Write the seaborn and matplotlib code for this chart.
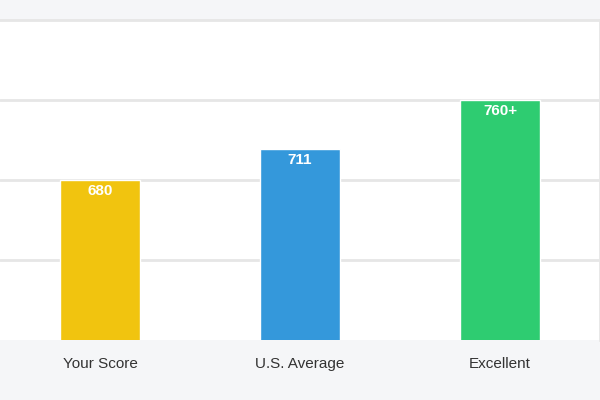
import matplotlib
matplotlib.use("Agg")
import matplotlib.pyplot as plt
import seaborn as sns
import pandas as pd

categories = ["Your Score", "U.S. Average", "Excellent"]
values = [680, 711, 760]
labels = ["680", "711", "760+"]
colors = ["#f1c40f", "#3498db", "#2ecc71"]

sns.set_theme(style="white")
plt.rcParams['font.family'] = ['Liberation Sans', 'DejaVu Sans']
fig = plt.figure(figsize=(6, 4), dpi=100, facecolor="#f5f6f8")
ax = fig.add_axes([0, 0.15, 1, 0.8])
ax.set_facecolor("white")
df = pd.DataFrame({"cat": categories, "val": values})
sns.barplot(data=df, x="cat", y="val", hue="cat", palette=colors, width=0.4, legend=False, ax=ax, saturation=1)
ax.set_ylim(520, 840)
ax.set_xlim(-0.5, 2.5)
ax.set_yticks([600, 680, 760])
ax.yaxis.grid(True, color="#e6e6e6", linewidth=2)
ax.set_axisbelow(True)
ax.tick_params(axis="y", left=False, labelleft=False)
ax.tick_params(axis="x", bottom=False, labelsize=11, colors="#333333", pad=6)
ax.set_xlabel(""); ax.set_ylabel("")
for s in ["left", "bottom"]:
    ax.spines[s].set_visible(False)
for s in ["top", "right"]:
    ax.spines[s].set_color("#e6e6e6"); ax.spines[s].set_linewidth(2)
for i, (v, l) in enumerate(zip(values, labels)):
    ax.text(i, v - 4, l, ha="center", va="top", color="white", fontweight="bold", fontsize=11)
fig.savefig("out.png", dpi=100, facecolor=fig.get_facecolor())
